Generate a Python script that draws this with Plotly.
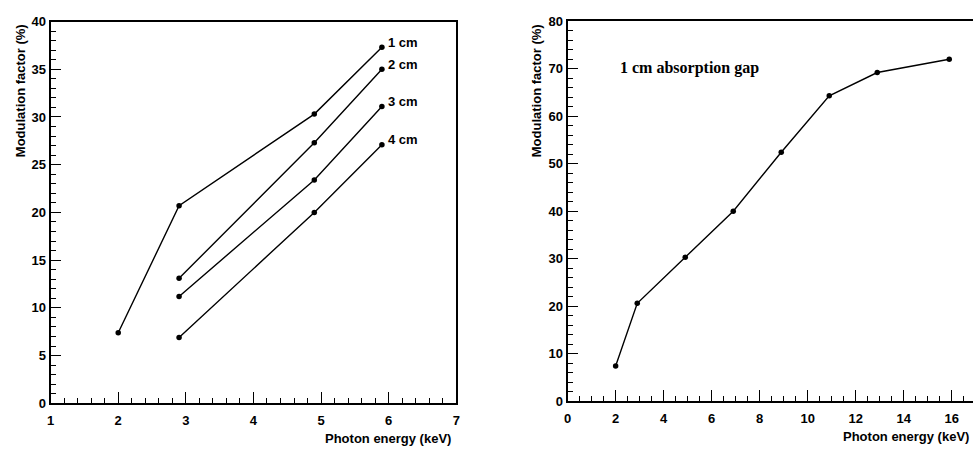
import plotly.graph_objects as go

# ---- data (left panel: different absorption gaps) ----
gap_labels = ["1 cm", "2 cm", "3 cm", "4 cm"]
x_1cm = [2.0, 2.9, 4.9, 5.9]
y_1cm = [7.4, 20.7, 30.3, 37.3]
x_2cm = [2.9, 4.9, 5.9]
y_2cm = [13.1, 27.3, 35.0]
x_3cm = [2.9, 4.9, 5.9]
y_3cm = [11.2, 23.4, 31.1]
x_4cm = [2.9, 4.9, 5.9]
y_4cm = [6.9, 20.0, 27.1]

# ---- data (right panel: 1 cm absorption gap) ----
x_right = [2.0, 2.9, 4.9, 6.9, 8.9, 10.9, 12.9, 15.9]
y_right = [7.4, 20.6, 30.3, 40.0, 52.4, 64.3, 69.2, 72.0]

xtitle = "Photon energy (keV)"
ytitle = "Modulation factor (%)"
panel_note = "1 cm absorption gap"

SANS = "Liberation Sans"
SERIF = "Liberation Serif"
tickfont = dict(family=SANS, size=13, color="black", weight="bold")
annfont = dict(family=SANS, size=13, color="black", weight="bold")

fig = go.Figure()

series = [(x_1cm, y_1cm), (x_2cm, y_2cm), (x_3cm, y_3cm), (x_4cm, y_4cm)]
line_style = dict(color="black", width=1.4)
marker_style = dict(color="black", size=5.5)

for (xs, ys), lab in zip(series, gap_labels):
    fig.add_trace(go.Scatter(x=xs, y=ys, mode="lines+markers", line=line_style,
                             marker=marker_style, name=lab, showlegend=False,
                             xaxis="x", yaxis="y"))
    fig.add_annotation(x=xs[-1], y=ys[-1], xref="x", yref="y", text=lab,
                       showarrow=False, xanchor="left", yanchor="middle",
                       xshift=4, yshift=5, font=annfont)

fig.add_trace(go.Scatter(x=x_right, y=y_right, mode="lines+markers", line=line_style,
                         marker=marker_style, showlegend=False,
                         xaxis="x2", yaxis="y2"))

fig.add_annotation(x=2.1, y=70.1, xref="x2", yref="y2", text=panel_note,
                   showarrow=False, xanchor="left", yanchor="middle",
                   font=dict(family=SERIF, size=16, color="black", weight="bold"))

axis_common = dict(showgrid=False, zeroline=False, showline=True, linecolor="black",
                   linewidth=2, ticks="inside", tickcolor="black", tickwidth=1.3,
                   tickfont=tickfont, fixedrange=True)

fig.update_layout(
    width=977, height=451,
    margin=dict(l=0, r=0, t=0, b=0),
    paper_bgcolor="white", plot_bgcolor="white",
    xaxis=dict(domain=[47/977, 456/977], range=[1, 7], dtick=1, ticklen=11,
               ticklabelstandoff=4,
               minor=dict(dtick=0.2, ticklen=5, ticks="inside", tickcolor="black", tickwidth=1.2),
               mirror=True, anchor="y", **axis_common),
    yaxis=dict(domain=[1-410/451, 1-15/451], range=[0, 40], dtick=5, ticklen=10,
               minor=dict(dtick=1, ticklen=5, ticks="inside", tickcolor="black", tickwidth=1.2),
               mirror=True, anchor="x", **axis_common),
    xaxis2=dict(domain=[568.3/977, 1.0], range=[0, 16.89], dtick=2, ticklen=11,
                ticklabelstandoff=4,
                minor=dict(dtick=0.5, ticklen=5, ticks="inside", tickcolor="black", tickwidth=1.2),
                mirror=True, anchor="y2", **axis_common),
    yaxis2=dict(domain=[1-407.7/451, 1-14.7/451], range=[0, 80], dtick=10, ticklen=10,
                minor=dict(dtick=2, ticklen=5, ticks="inside", tickcolor="black", tickwidth=1.2),
                mirror=False, anchor="x2", **axis_common),
)

# axis titles (ROOT style: aligned to the axis ends)
fig.add_annotation(x=452.3/977, y=1-441/451, xref="paper", yref="paper", text=xtitle,
                   showarrow=False, xanchor="right", yanchor="middle", yshift=-5, font=annfont)
fig.add_annotation(x=975/977, y=1-439/451, xref="paper", yref="paper", text=xtitle,
                   showarrow=False, xanchor="right", yanchor="middle", yshift=-5, font=annfont)
fig.add_annotation(x=16.7/977, y=1-86.5/451, xref="paper", yref="paper", text=ytitle,
                   textangle=-90, showarrow=False, xanchor="center", yanchor="middle", font=annfont)
fig.add_annotation(x=537/977, y=1-86.5/451, xref="paper", yref="paper", text=ytitle,
                   textangle=-90, showarrow=False, xanchor="center", yanchor="middle", font=annfont)

fig.write_html("out.html", config={"displayModeBar": False},
               post_script="document.body.style.margin='0';")
